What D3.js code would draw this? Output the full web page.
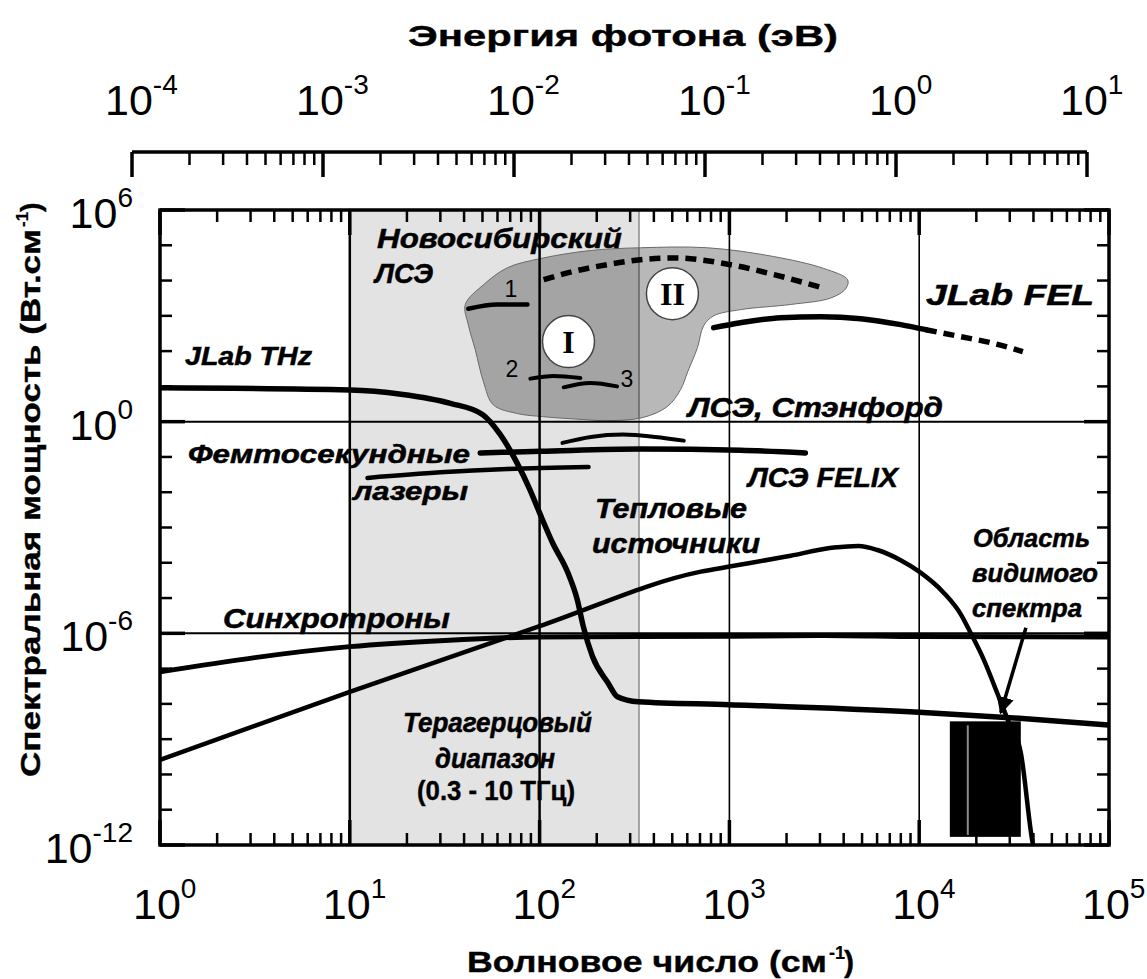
<!DOCTYPE html>
<html>
<head>
<meta charset="utf-8">
<script src="https://cdn.jsdelivr.net/npm/d3@7"></script>
<style>
  html, body { margin: 0; padding: 0; background: #fff; }
  svg { display: block; }
</style>
</head>
<body>
<svg id="chart" width="1147" height="979"></svg>
<script>
// ---------- data: wavenumber (cm^-1) and spectral power (W·cm^-1) ----------
// JLab THz source
const jlabThzX = [1, 10, 18.6, 33.9, 50, 61.7, 75.9, 89, 100, 117, 141, 158, 170, 190, 229, 257, 331, 1000, 10000, 31600, 100000];
const jlabThzY = [9.1, 7.9, 6.0, 3.3, 1.6, 0.45, 0.069, 0.0117, 0.0026, 3.7e-4, 5.2e-5, 8.9e-6, 1.55e-6, 2.2e-7, 4.0e-8, 1.6e-8, 1.15e-8, 9.5e-9, 5.8e-9, 4.0e-9, 2.5e-9];

// synchrotrons
const synchX = [1, 10, 31.6, 100, 1000, 3160, 10000, 100000];
const synchY = [8.1e-8, 4.2e-7, 6.3e-7, 7.9e-7, 8.3e-7, 8.7e-7, 8.1e-7, 7.9e-7];

// thermal sources
const thermalX = [1, 10, 100, 708, 1000, 1995, 3548, 4786, 6026, 7943, 10000, 13490, 16600, 18620, 21880, 25700, 29510, 34280, 39810, 41690];
const thermalY = [2.6e-10, 2.2e-8, 1.6e-6, 5.6e-5, 7.8e-5, 1.5e-4, 2.7e-4, 3.0e-4, 2.3e-4, 1.2e-4, 5.6e-5, 1.4e-5, 3.4e-6, 1.05e-6, 1.8e-7, 2.1e-8, 3.2e-9, 4.2e-10, 1.0e-12, 4.0e-13];

// Stanford FEL
const stanfordX = [132, 186, 275, 407, 575];
const stanfordY = [0.25, 0.37, 0.43, 0.37, 0.29];

// FELIX FEL
const felixX = [48.7, 101, 340, 1146, 2512];
const felixY = [0.13, 0.144, 0.168, 0.154, 0.13];

// femtosecond lasers
const femtoX = [12.4, 30, 67.6, 181];
const femtoY = [0.0254, 0.0366, 0.0456, 0.052];

// Novosibirsk FEL, lines 1–3 (stage I)
const novo1X = [42.1, 59.9, 86.3];
const novo1Y = [1590, 2090, 2090];
const novo2X = [89.4, 118.7, 164];
const novo2Y = [16.6, 19.7, 17.3];
const novo3X = [134, 185, 256];
const novo3Y = [9.4, 12.5, 10];

// Novosibirsk FEL, stage II (projected)
const novoIIX = [105, 151, 227, 340, 509, 1014, 1718, 3090];
const novoIIY = [1.06e4, 1.82e4, 2.82e4, 3.9e4, 4.37e4, 2.82e4, 1.48e4, 6.2e3];

// Novosibirsk FEL operating area outline
const novoAreaX = [40.6, 50.6, 67.6, 101, 185, 340, 767, 1710, 3141, 4198, 4102, 3420, 2104, 1146, 826, 731, 679, 603, 553, 472, 348, 228, 170, 105, 76.4, 57.0, 50.6, 45.8, 42.1];
const novoAreaY = [2.1e3, 7.6e3, 2.3e4, 4.2e4, 7.1e4, 8.5e4, 8.5e4, 4.8e4, 2.2e4, 1.05e4, 5.9e3, 3.2e3, 2.1e3, 1.5e3, 1.0e3, 5.2e2, 126, 26, 8.1, 2.7, 1.3, 1.07, 1.15, 1.38, 1.7, 3.0, 13.5, 110, 560];

// JLab FEL: measured (solid) and projected (dashed)
const jlabFelX = [826, 1146, 1862, 3027, 4920, 8000, 10840];
const jlabFelY = [461, 640, 887, 946, 832, 562, 405];
const jlabFelDashX = [10840, 16560, 23880, 35160];
const jlabFelDashY = [405, 256, 173, 96.4];

// terahertz band (0.3–10 THz), cm^-1
const thzBand = [10, 334];
// visible spectrum block: wavenumber span and power span, inner marker
const visibleX = [14500, 34300];
const visibleY = [1.7e-12, 3.2e-9];
const visibleMarkX = 18030;
// arrow from the label to the visible block
const visibleArrowX = [36500, 26900];
const visibleArrowY = [1.45e-6, 5.6e-9];
// stage markers I and II
const stageNames = ["I", "II"];
const stageX = [142, 501];
const stageY = [186, 4260];

// tick exponents
const xTickExp = [0, 1, 2, 3, 4, 5];
const yTickExp = [6, 0, -6, -12];
const topTickExp = [-4, -3, -2, -1, 0, 1];
const xGrid = [10, 100, 1000, 10000];
const yGrid = [1, 1e-6];

// ---------- layout ----------
const svg = d3.select("#chart");
const L = 160, R = 1109, T = 210, B = 845;
const x = d3.scaleLog().domain([1, 1e5]).range([L, R]);
const y = d3.scaleLog().domain([1e-12, 1e6]).range([B, T]);
const xTop = d3.scaleLog().domain([1e-4, 1e1]).range([132, 1087]);
const TOP_AXIS_Y = 152;

const sans = "'Liberation Sans', Arial, Helvetica, sans-serif";
const serif = "'Liberation Serif', 'Times New Roman', serif";

const defs = svg.append("defs");
defs.append("clipPath").attr("id", "plot-clip")
  .append("rect").attr("x", L).attr("y", T).attr("width", R - L).attr("height", B - T);
defs.append("marker").attr("id", "arrowhead")
  .attr("viewBox", "0 0 10 10").attr("refX", 9).attr("refY", 5)
  .attr("markerWidth", 5).attr("markerHeight", 5).attr("orient", "auto")
  .append("path").attr("d", "M0,0 L10,5 L0,10 Z").attr("fill", "#000");

const plot = svg.append("g").attr("clip-path", "url(#plot-clip)");

const zip = (xs, ys) => xs.map((v, i) => [v, ys[i]]);
const line = d3.line().x(d => x(d[0])).y(d => y(d[1])).curve(d3.curveMonotoneX);

// terahertz band
plot.append("rect")
  .attr("x", x(thzBand[0])).attr("y", T)
  .attr("width", x(thzBand[1]) - x(thzBand[0])).attr("height", B - T)
  .attr("fill", "#e3e3e3");
plot.append("line")
  .attr("x1", x(thzBand[1])).attr("x2", x(thzBand[1])).attr("y1", T).attr("y2", B)
  .attr("stroke", "#8a8a8a").attr("stroke-width", 1.5);

// Novosibirsk FEL area
plot.append("path")
  .attr("d", d3.line().x(d => x(d[0])).y(d => y(d[1])).curve(d3.curveCatmullRomClosed.alpha(0.5))(zip(novoAreaX, novoAreaY)))
  .attr("fill", "rgba(0,0,0,0.28)").attr("stroke", "#6a6a6a").attr("stroke-width", 1);

// grid lines
plot.selectAll(".vgrid").data(xGrid).join("line")
  .attr("x1", d => x(d)).attr("x2", d => x(d)).attr("y1", T).attr("y2", B)
  .attr("stroke", "#000").attr("stroke-width", d => d <= 100 ? 2.5 : 1.6);
plot.selectAll(".hgrid").data(yGrid).join("line")
  .attr("x1", L).attr("x2", R).attr("y1", d => y(d)).attr("y2", d => y(d))
  .attr("stroke", "#000").attr("stroke-width", 2);

// visible spectrum block
plot.append("rect")
  .attr("x", x(visibleX[0])).attr("y", y(visibleY[1]))
  .attr("width", x(visibleX[1]) - x(visibleX[0])).attr("height", y(visibleY[0]) - y(visibleY[1]))
  .attr("fill", "#000");
plot.append("line")
  .attr("x1", x(visibleMarkX)).attr("x2", x(visibleMarkX))
  .attr("y1", y(visibleY[1]) + 4).attr("y2", y(visibleY[0]) - 2)
  .attr("stroke", "#8c8c8c").attr("stroke-width", 2);

// curves
function curve(xs, ys, width, dash) {
  const p = plot.append("path").attr("d", line(zip(xs, ys)))
    .attr("fill", "none").attr("stroke", "#000").attr("stroke-width", width)
    .attr("stroke-linecap", dash ? "butt" : "round").attr("stroke-linejoin", "round");
  if (dash) p.attr("stroke-dasharray", dash);
  return p;
}
curve(thermalX, thermalY, 4.5);
curve(synchX, synchY, 5);
curve(jlabThzX, jlabThzY, 5.5);
curve(femtoX, femtoY, 4.5);
curve(felixX, felixY, 5.5);
curve(stanfordX, stanfordY, 4);
curve(novo1X, novo1Y, 4.5);
curve(novo2X, novo2Y, 4);
curve(novo3X, novo3Y, 4);
curve(novoIIX, novoIIY, 5.5, "11 7");
curve(jlabFelX, jlabFelY, 5.5);
curve(jlabFelDashX, jlabFelDashY, 5.5, "11 7");

// arrow towards the visible block
plot.append("line")
  .attr("x1", x(visibleArrowX[0])).attr("y1", y(visibleArrowY[0]))
  .attr("x2", x(visibleArrowX[1])).attr("y2", y(visibleArrowY[1]))
  .attr("stroke", "#000").attr("stroke-width", 3.5)
  .attr("marker-end", "url(#arrowhead)");

// stage markers
const stages = plot.selectAll(".stage").data(stageNames).join("g")
  .attr("transform", (d, i) => `translate(${x(stageX[i])},${y(stageY[i])})`);
stages.append("circle").attr("r", 26).attr("fill", "#fff").attr("stroke", "#444").attr("stroke-width", 1.5);
stages.append("text").attr("text-anchor", "middle").attr("y", 11)
  .attr("font-family", serif).attr("font-weight", "bold").attr("font-size", 32)
  .text(d => d);

// ---------- annotation text ----------
const labels = [
  { t: "Новосибирский", x: 377, y: 248, s: 28, w: 245 },
  { t: "ЛСЭ", x: 375, y: 283, s: 28, w: 58 },
  { t: "JLab FEL", x: 926, y: 305, s: 30, w: 168 },
  { t: "JLab THz", x: 185, y: 365, s: 25, w: 127 },
  { t: "ЛСЭ, Стэнфорд", x: 688, y: 417, s: 28, w: 255 },
  { t: "Фемтосекундные", x: 188, y: 463, s: 25, w: 282 },
  { t: "лазеры", x: 353, y: 500, s: 25, w: 115 },
  { t: "ЛСЭ FELIX", x: 748, y: 487, s: 28, w: 150 },
  { t: "Тепловые", x: 595, y: 518, s: 27, w: 152 },
  { t: "источники", x: 592, y: 553, s: 27, w: 168 },
  { t: "Синхротроны", x: 223, y: 628, s: 27, w: 227 },
  { t: "Область", x: 973, y: 547, s: 25, w: 117 },
  { t: "видимого", x: 972, y: 582, s: 25, w: 126 },
  { t: "спектра", x: 972, y: 617, s: 25, w: 110 },
  { t: "Терагерцовый", x: 403, y: 732, s: 28, w: 189 },
  { t: "диапазон", x: 435, y: 768, s: 28, w: 120 }
];
svg.selectAll(".note").data(labels).join("text")
  .attr("x", d => d.x).attr("y", d => d.y)
  .attr("font-family", sans).attr("font-weight", "bold").attr("font-style", "italic")
  .attr("font-size", d => d.s)
  .attr("stroke", "#000").attr("stroke-width", 0.5)
  .attr("textLength", d => d.w).attr("lengthAdjust", "spacingAndGlyphs")
  .text(d => d.t);

svg.append("text").attr("x", 417).attr("y", 800)
  .attr("font-family", sans).attr("font-weight", "bold").attr("font-size", 28)
  .attr("stroke", "#000").attr("stroke-width", 0.4)
  .attr("textLength", 158).attr("lengthAdjust", "spacingAndGlyphs")
  .text("(0.3 - 10 ТГц)");

const nums = [
  { t: "1", x: 511, y: 297 },
  { t: "2", x: 512, y: 377 },
  { t: "3", x: 627, y: 387 }
];
svg.selectAll(".num").data(nums).join("text")
  .attr("x", d => d.x).attr("y", d => d.y).attr("text-anchor", "middle")
  .attr("font-family", sans).attr("font-size", 23).text(d => d.t);

// ---------- axes ----------
const axes = svg.append("g").attr("stroke", "#000").attr("fill", "none");
function decades(lo, hi) {
  const major = [], minor = [];
  for (let e = lo; e <= hi; e++) {
    major.push(Math.pow(10, e));
    if (e < hi) for (let m = 2; m <= 9; m++) minor.push(m * Math.pow(10, e));
  }
  return { major, minor };
}
const xt = decades(0, 5);
const yt = decades(-12, 6);
const tt = decades(-4, 1);
const isLabelled = d => yTickExp.includes(Math.round(Math.log10(d)));

// bottom & top minor ticks (inward)
[B, T].forEach((edge, k) => {
  const dir = k === 0 ? -1 : 1;
  axes.append("g").selectAll("line").data(xt.minor).join("line")
    .attr("x1", d => x(d)).attr("x2", d => x(d))
    .attr("y1", edge).attr("y2", edge + dir * 12).attr("stroke-width", 2.5);
  axes.append("g").selectAll("line").data(xt.major).join("line")
    .attr("x1", d => x(d)).attr("x2", d => x(d))
    .attr("y1", edge).attr("y2", edge + dir * 25).attr("stroke-width", 3.5);
});
// left & right ticks (inward), one per decade
[L, R].forEach((edge, k) => {
  const dir = k === 0 ? 1 : -1;
  axes.append("g").selectAll("line").data(yt.major).join("line")
    .attr("x1", edge).attr("x2", d => edge + dir * (isLabelled(d) ? 25 : 12))
    .attr("y1", d => y(d)).attr("y2", d => y(d))
    .attr("stroke-width", d => isLabelled(d) ? 3.5 : 2.5);
});
axes.append("rect").attr("x", L).attr("y", T).attr("width", R - L).attr("height", B - T)
  .attr("stroke-width", 3.5);

// photon energy axis above the plot
axes.append("line").attr("x1", xTop.range()[0]).attr("x2", xTop.range()[1])
  .attr("y1", TOP_AXIS_Y).attr("y2", TOP_AXIS_Y).attr("stroke-width", 3.5);
axes.append("g").selectAll("line").data(tt.minor).join("line")
  .attr("x1", d => xTop(d)).attr("x2", d => xTop(d))
  .attr("y1", TOP_AXIS_Y).attr("y2", TOP_AXIS_Y + 13).attr("stroke-width", 2.5);
axes.append("g").selectAll("line").data(tt.major).join("line")
  .attr("x1", d => xTop(d)).attr("x2", d => xTop(d))
  .attr("y1", TOP_AXIS_Y).attr("y2", TOP_AXIS_Y + 25).attr("stroke-width", 3.5);

// power-of-ten labels
function powLabel(px, py, exp, anchor) {
  const t = svg.append("text").attr("x", px).attr("y", py).attr("text-anchor", anchor)
    .attr("font-family", sans).attr("font-size", 43).attr("fill", "#000");
  t.append("tspan").text("10");
  t.append("tspan").attr("font-size", 28).attr("dy", -21).text(exp);
}
xTickExp.forEach(e => powLabel(x(Math.pow(10, e)) - 27, 919, e, "start"));
topTickExp.forEach(e => powLabel(xTop(Math.pow(10, e)) - 27, 115, e, "start"));
yTickExp.forEach(e => powLabel(133, y(Math.pow(10, e)) + 18, e, "end"));

// axis titles
const titleFont = sel => sel.attr("font-family", sans).attr("font-weight", "bold")
  .attr("stroke", "#000").attr("stroke-width", 0.4);

svg.append("text").attr("x", 408).attr("y", 46).call(titleFont)
  .attr("font-size", 30).attr("textLength", 430).attr("lengthAdjust", "spacingAndGlyphs")
  .text("Энергия фотона (эВ)");

// wavenumber title: main part, superscript, closing bracket
svg.append("text").attr("x", 467).attr("y", 972).call(titleFont)
  .attr("font-size", 30).attr("textLength", 360).attr("lengthAdjust", "spacingAndGlyphs")
  .text("Волновое число (см");
svg.append("text").attr("x", 829).attr("y", 959).call(titleFont)
  .attr("font-size", 18).attr("stroke-width", 0.2).text("-1");
svg.append("text").attr("x", 844).attr("y", 972).call(titleFont)
  .attr("font-size", 30).text(")");

// power title, rotated
const yTitle = svg.append("g").attr("transform", "translate(40,777) rotate(-90)");
yTitle.append("text").attr("x", 0).attr("y", 0).call(titleFont)
  .attr("font-size", 28).attr("textLength", 548).attr("lengthAdjust", "spacingAndGlyphs")
  .text("Спектральная мощность (Вт.см");
yTitle.append("text").attr("x", 550).attr("y", -12).call(titleFont)
  .attr("font-size", 17).attr("stroke-width", 0.2).text("-1");
yTitle.append("text").attr("x", 565).attr("y", 0).call(titleFont)
  .attr("font-size", 28).text(")");
</script>
</body>
</html>
